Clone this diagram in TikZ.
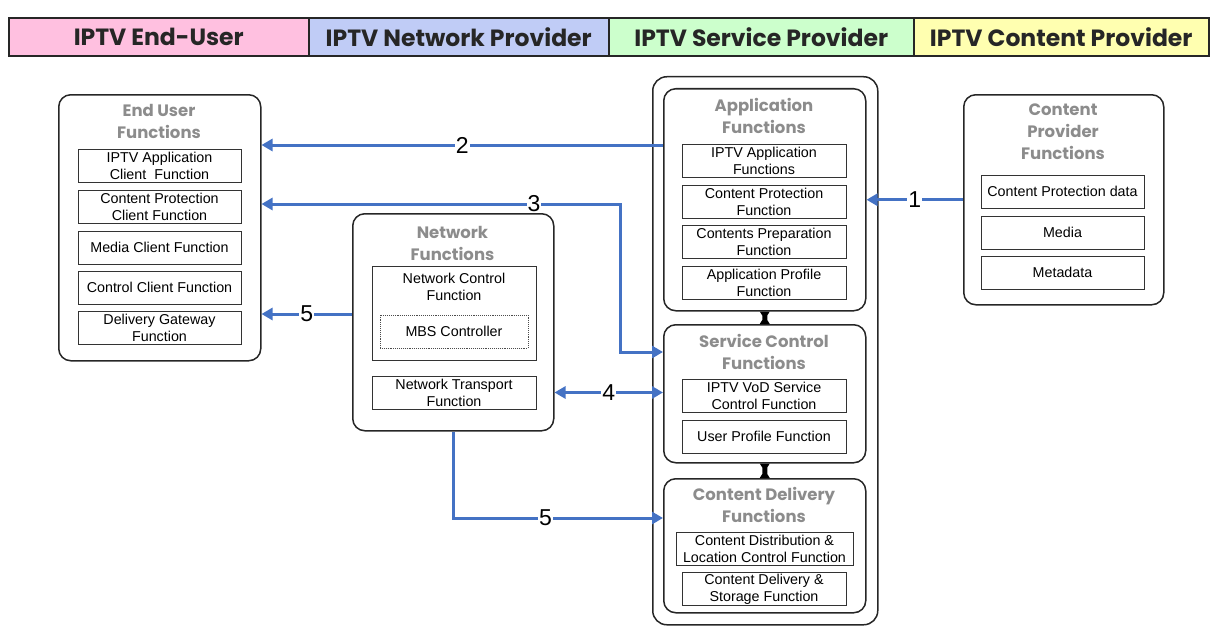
\documentclass[tikz,border=0pt]{standalone}
\usepackage{fontspec}
\setmainfont{Liberation Sans}
\newfontfamily\headfont{Poppins}
\usetikzlibrary{arrows.meta}
\definecolor{EU}{RGB}{255,192,224}
\definecolor{NP}{RGB}{192,204,246}
\definecolor{SP}{RGB}{204,255,204}
\definecolor{CP}{RGB}{255,255,176}
\definecolor{LinkBlue}{RGB}{68,114,196}
\definecolor{TitleGray}{RGB}{140,140,140}
% short black joint between two stacked boxes
\newcommand\gluebar[2]{%
  \fill[black] ([xshift=-5]#1.south) -- ([xshift=5]#1.south)
    -- ([xshift=2.5,yshift=-4]#1.south) -- ([xshift=2.5,yshift=4]#2.north)
    -- ([xshift=5]#2.north) -- ([xshift=-5]#2.north)
    -- ([xshift=-2.5,yshift=4]#2.north) -- ([xshift=-2.5,yshift=-4]#1.south) -- cycle;}

\begin{document}
\begin{tikzpicture}[x=1pt, y=-1pt,
    band/.style={draw=black!85, line width=1.5pt, minimum height=38, anchor=west,
      font=\headfont\bfseries\fontsize{23.5}{26}\selectfont, text=black!85},
    grp/.style={draw=black!85, line width=1.5pt, rounded corners=12pt, anchor=north west},
    ttl/.style={align=center, text=TitleGray, font=\headfont\bfseries\fontsize{16.5}{22}\selectfont},
    fn/.style={draw=black!80, line width=0.9pt, align=center, inner sep=0pt,
      minimum height=33, font=\fontsize{14.3}{17}\selectfont},
    link/.style={draw=LinkBlue, line width=3pt,
      arrows={-Triangle[length=11pt,width=12pt]}},
    num/.style={fill=white, inner sep=1pt, font=\fontsize{23}{23}\selectfont}]
  \useasboundingbox (0,0) rectangle (1213,626);

  % stakeholder bands
  \node[band, fill=EU, minimum width=300] (bEU) at (8,37) {IPTV End-User};
  \node[band, fill=NP, minimum width=300] (bNP) at (308,37) {IPTV Network Provider};
  \node[band, fill=SP, minimum width=305] (bSP) at (608,37) {IPTV Service Provider};
  \node[band, fill=CP, minimum width=295] (bCP) at (913,37) {IPTV Content Provider};

  % end user side
  \node[grp, minimum width=202, minimum height=266] (eu) at (58,94) {};
  \node[ttl] (euT) at (159,121) {End User\\Functions};
  \node[fn, minimum width=163] (eu1) at (159.5,165.5) {IPTV Application\\Client\ \ Function};
  \node[fn, minimum width=163] (eu2) at (159.5,207) {Content Protection\\Client Function};
  \node[fn, minimum width=163] (eu3) at (159.5,247.5) {Media Client Function};
  \node[fn, minimum width=163] (eu4) at (159.5,287.5) {Control Client Function};
  \node[fn, minimum width=163] (eu5) at (159.5,328) {Delivery Gateway\\Function};

  % network provider
  \node[grp, minimum width=201, minimum height=217] (nf) at (352,213) {};
  \node[ttl] (nfT) at (452.5,243) {Network\\Functions};
  \node[fn, minimum width=164, minimum height=94, anchor=north] (nc) at (454,266) {};
  \node[font=\fontsize{14.3}{17}\selectfont, align=center] (ncT) at (454,287) {Network Control\\Function};
  \node[fn, draw=black!70, densely dotted, line width=0.6pt, minimum width=148] (mbs) at (454,331.5) {MBS Controller};
  \node[fn, minimum width=164] (nt) at (454,392.5) {Network Transport\\Function};

  % service provider
  \node[grp, rounded corners=14pt, minimum width=225, minimum height=548] (sp) at (652,76) {};

  \node[grp, minimum width=202, minimum height=222] (app) at (663,88) {};
  \node[ttl] (appT) at (764,116) {Application\\Functions};
  \node[fn, minimum width=164] (app1) at (764,160.5) {IPTV Application\\Functions};
  \node[fn, minimum width=164] (app2) at (764,201.5) {Content Protection\\Function};
  \node[fn, minimum width=164] (app3) at (764,242) {Contents Preparation\\Function};
  \node[fn, minimum width=164] (app4) at (764,282.5) {Application Profile\\Function};

  \node[grp, minimum width=202, minimum height=138] (sc) at (663,324) {};
  \node[ttl] (scT) at (764,352) {Service Control\\Functions};
  \node[fn, minimum width=164] (sc1) at (764,395.5) {IPTV VoD Service\\Control Function};
  \node[fn, minimum width=164] (sc2) at (764,436.5) {User Profile Function};

  \node[grp, minimum width=202, minimum height=134] (cd) at (663,478) {};
  \node[ttl] (cdT) at (764,505) {Content Delivery\\Functions};
  \node[fn, minimum width=177] (cd1) at (764.5,548.5) {Content Distribution \&\\Location Control Function};
  \node[fn, minimum width=164] (cd2) at (764,589) {Content Delivery \&\\Storage Function};

  \gluebar{app}{sc}
  \gluebar{sc}{cd}

  % content provider
  \node[grp, minimum width=200, minimum height=210] (cp) at (963,94) {};
  \node[ttl] (cpT) at (1063,132) {Content\\Provider\\Functions};
  \node[fn, minimum width=163] (cp1) at (1062.5,191.5) {Content Protection data};
  \node[fn, minimum width=163] (cp2) at (1062.5,232.5) {Media};
  \node[fn, minimum width=163] (cp3) at (1062.5,272.5) {Metadata};

  % reference points
  \draw[link] (cp.west) -- node[num]{1} (app.east);
  \draw[link] (app.west |- 0,145) -- node[num]{2} (eu.east |- 0,145);
  \draw[link, arrows={Triangle[length=11pt,width=12pt]-Triangle[length=11pt,width=12pt]}]
    (eu.east |- 0,204) -- node[num, pos=0.76]{3} (620,204) |- (sc.west |- 0,352);
  \draw[link, arrows={Triangle[length=11pt,width=12pt]-Triangle[length=11pt,width=12pt]}]
    (nf.east |- nt) -- node[num]{4} (sc.west |- nt);
  \draw[link] (nf.west |- 0,314) -- node[num]{5} (eu.east |- 0,314);
  \draw[link] (nf.south) |- node[num, pos=0.72]{5} (cd.west |- 0,518);
\end{tikzpicture}
\end{document}
